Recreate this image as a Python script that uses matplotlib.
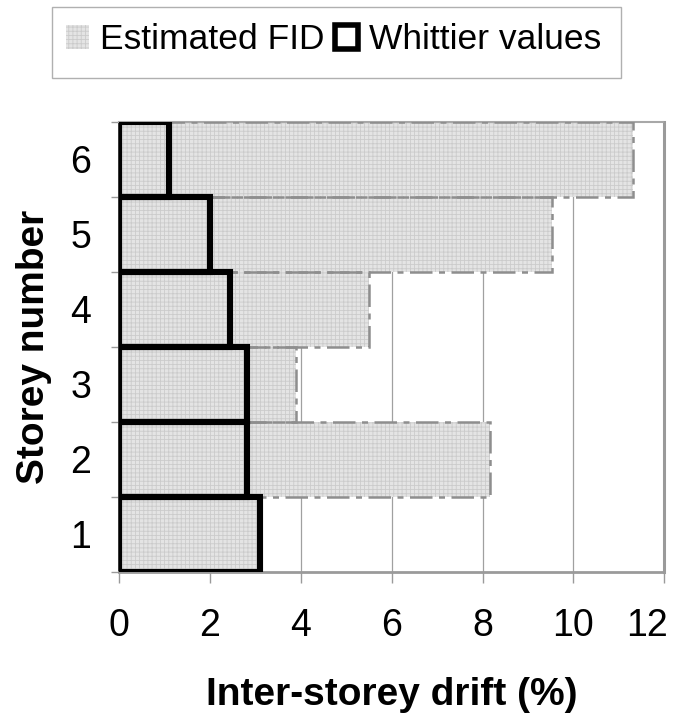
import matplotlib
matplotlib.use("Agg")
import matplotlib.pyplot as plt
import matplotlib.transforms as mtransforms
from matplotlib.patches import Patch, Rectangle

# Storey-by-storey inter-storey drift (%)
storeys = [1, 2, 3, 4, 5, 6]
estimated_fid = [3.1, 8.16, 3.89, 5.51, 9.52, 11.31]
whittier = [3.11, 2.81, 2.81, 2.45, 2.0, 1.10]
x_ticks = [0, 2, 4, 6, 8, 10, 12]
series_names = ["Estimated FID", "Whittier values"]

plt.rcParams["font.family"] = ["Liberation Sans", "DejaVu Sans"]
plt.rcParams["hatch.linewidth"] = 0.6

fig = plt.figure(figsize=(6.89, 7.23), dpi=100)
ax = fig.add_axes([0.173, 0.2093, 0.791, 0.6224])

fill_face = "#e4e4e4"
hatch_col = "#cbcbcb"
dash_col = "#8e8e8e"
dashdot = (0, (9, 2.6, 2.4, 2.6))

# Stippled fill for the estimated FID bars
ax.barh(storeys, estimated_fid, height=1.0, color=fill_face, edgecolor=hatch_col,
        linewidth=0, hatch="++++", zorder=2)
# Dash-dot outline of the estimated FID bars
ax.barh(storeys, estimated_fid, height=1.0, facecolor="none", edgecolor=dash_col,
        linewidth=1.8, linestyle=dashdot, zorder=3)
# Whittier values as heavy black outlines
ax.barh(storeys, whittier, height=1.0, facecolor="none", edgecolor="black",
        linewidth=4.4, joinstyle="miter", zorder=4)

ax.set_xlim(0, 12)
ax.set_ylim(0.5, 6.5)

ax.set_xticks(x_ticks)
ax.set_xticklabels([str(v) for v in x_ticks])
ax.tick_params(axis="x", direction="out", length=8, width=1, color="#9a9a9a",
               labelsize=27, pad=18)
# keep the last x label inside the canvas
last = ax.get_xticklabels()[-1]
last.set_transform(last.get_transform() +
                   mtransforms.ScaledTranslation(-0.17, 0, fig.dpi_scale_trans))

# Category ticks sit between storeys; labels sit at storey centres
ax.set_yticks([s - 0.5 for s in storeys] + [storeys[-1] + 0.5])
ax.set_yticklabels([])
ax.set_yticks(storeys, minor=True)
ax.set_yticklabels([str(s) for s in storeys], minor=True)
ax.tick_params(axis="y", which="major", direction="out", length=6, width=1,
               color="#9a9a9a")
ax.tick_params(axis="y", which="minor", length=0, labelsize=27, pad=20)

ax.xaxis.grid(True, color="#a0a0a0", linewidth=0.9, zorder=0)
ax.set_axisbelow(True)

ax.spines["left"].set_color("#333333")
ax.spines["left"].set_linewidth(1.4)
ax.spines["bottom"].set_color("#9a9a9a")
ax.spines["bottom"].set_linewidth(2.0)
ax.spines["right"].set_color("#9a9a9a")
ax.spines["right"].set_linewidth(2.2)
ax.spines["top"].set_color("#a8a8a8")
ax.spines["top"].set_linewidth(1.5)
ax.spines["top"].set_linestyle((0, (1, 1)))

ax.set_xlabel("Inter-storey drift (%)", fontsize=28, fontweight="bold", labelpad=24)
ax.set_ylabel("Storey number", fontsize=28, fontweight="bold")
ax.yaxis.set_label_coords(-0.124, 0.5)

# Legend with a plain grey frame across the top
frame = Rectangle((52.5 / 689, 1 - 77.5 / 723), (621 - 52.5) / 689, (77.5 - 6.5) / 723,
                  transform=fig.transFigure, facecolor="white", edgecolor="#b0b0b0",
                  linewidth=1.0)
fig.patches.append(frame)
handles = [
    Patch(facecolor=fill_face, edgecolor=hatch_col, linewidth=0, hatch="++++"),
    Patch(facecolor="white", edgecolor="black", linewidth=4.0, joinstyle="miter"),
]
fig.legend(handles, series_names, loc="center", bbox_to_anchor=(0.484, 0.945),
           ncol=2, frameon=False, fontsize=25.5, handlelength=0.65, handleheight=0.65,
           handletextpad=0.3, columnspacing=0.3, borderpad=0.2)

fig.savefig("out.png", dpi=100)
